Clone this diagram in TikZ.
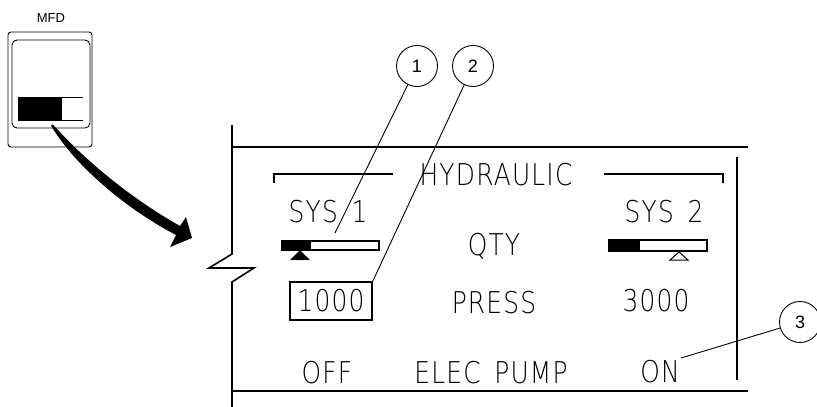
\documentclass[tikz,border=0pt]{standalone}
\usepackage{fontspec}
\setmainfont{Liberation Sans}
\newfontfamily\panelfont[FakeStretch=0.83,LetterSpace=4,WordSpace=1.5]{DejaVu Sans ExtraLight}
\usepackage{tikz}

\begin{document}
\begin{tikzpicture}[x=1pt,y=-1pt]
\tikzset{
    lbl/.style={font=\panelfont\fontsize{30}{30}\selectfont, inner sep=0pt, anchor=base},
    callout/.style={circle, draw, line width=0.9pt, minimum size=41pt, inner sep=0pt, font=\fontsize{18}{18}\selectfont},
    frame/.style={line width=1.6pt},
    bracket/.style={line width=1.3pt},
    leader/.style={line width=0.9pt}
}
\useasboundingbox (0,0) rectangle (817,407);

% --- MFD key ---
\node[font=\fontsize{13}{13}\selectfont, inner sep=0pt] (mfd) at (51,18) {MFD};
\draw[line width=0.9pt, rounded corners=3pt] (8,32) rectangle (92,147);
\draw[line width=0.9pt, rounded corners=5pt] (12,40) rectangle (90,128);
\fill (18,97) rectangle (62,120);
\draw[line width=0.9pt] (18,97) -- (83,97) (18,120) -- (83,120);
\fill (51,125.5) .. controls (71,160) and (119,205) .. (176,235) -- (170,247) -- (192,238)
      -- (186,217) -- (180,226) .. controls (125,195) and (79,154) .. (53,124.5) -- cycle;

% --- panel frame ---
\draw[frame] (232,125) -- (232,254) -- (209,268) -- (254,268) -- (232,282) -- (232,407);
\draw[frame] (232,147) -- (748,147);
\draw[frame] (232,391) -- (748,391);
\draw[frame] (737,157) -- (737,380);
\draw[bracket] (274,183) -- (274,174) -- (393,174);
\draw[bracket] (604,174) -- (723,174) -- (723,183);

% --- texts ---
\node[lbl] (hyd) at (496,185) {HYDRAULIC};
\node[lbl] (sys1) at (328,222) {SYS 1};
\node[lbl] (sys2) at (664,222) {SYS 2};
\node[lbl] (qty) at (494,255) {QTY};
\node[lbl] (press) at (494,313) {PRESS};
\node[lbl] (p2) at (656,311) {3000};
\node[lbl] (off) at (327,383) {OFF};
\node[lbl] (pump) at (491,383) {ELEC PUMP};
\node[lbl] (on) at (660,382) {ON};
\node[draw, line width=1.5pt, minimum width=82pt, minimum height=38pt, inner sep=0pt,
      font=\panelfont\fontsize{30}{30}\selectfont] (p1) at (331,301) {1000};

% --- quantity bars ---
\draw[line width=1.2pt] (282,241) rectangle (379,250);
\fill (282,241) rectangle (311,250);
\fill (300,250) -- (310,260) -- (290,260) -- cycle;
\draw[line width=1.2pt] (609,240) rectangle (707,251);
\fill (609,240) rectangle (640,251);
\draw[line width=1pt] (679,252) -- (688,260) -- (670,260) -- cycle;

% --- callouts ---
\node[callout] (c1) at (417,66) {1};
\node[callout] (c2) at (473,66) {2};
\node[callout] (c3) at (800,322) {3};
\coordinate (t1) at (335,233);
\coordinate (t3) at (681,358);
\draw[leader] (c1) -- (t1);
\draw[leader] (c2) -- (p1.north east);
\draw[leader] (c3) -- (t3);
\end{tikzpicture}
\end{document}
